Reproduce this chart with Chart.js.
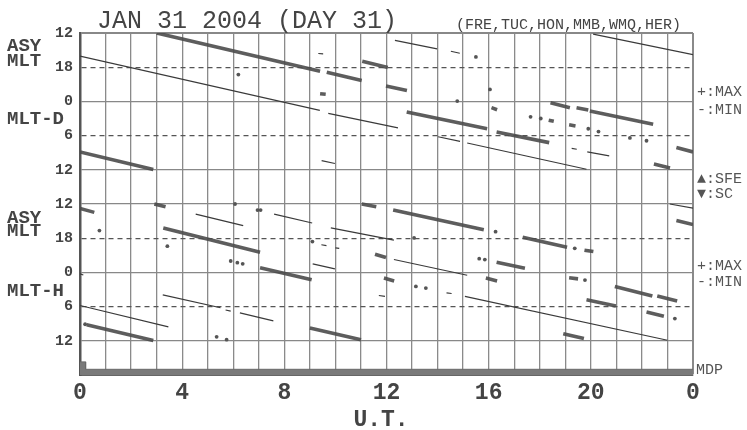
<!DOCTYPE html>
<html><head><meta charset="utf-8">
<script src="https://cdn.jsdelivr.net/npm/chart.js@4.4.1/dist/chart.umd.min.js"></script>
<style>html,body{margin:0;padding:0;background:#fff}#wrap{width:747px;height:430px;position:relative}</style>
</head><body><div id="wrap"><canvas id="c"></canvas></div>
<script>
// ---- text / tick labels ----
const TITLE = 'JAN 31 2004 (DAY 31)';
const STATIONS = '(FRE,TUC,HON,MMB,WMQ,HER)';
const UT_TICKS = [0, 4, 8, 12, 16, 20, 24];
const UT_TICK_LABELS = ['0', '4', '8', '12', '16', '20', '0'];
const MLT_TICK_LABELS = ['12', '18', '0', '6', '12'];

// ---- data: segments [UT1, MLT1, UT2, MLT2]; MLT given on a 12..36 scale (24 = midnight, 36 = next noon) ----
// ASY-D panel
const D_MAX_SEGS = [
  [3.0, 12.0, 9.4, 18.7], [9.66, 18.9, 11.03, 20.35], [11.05, 16.95, 12.05, 18.05],
  [11.98, 21.3, 12.8, 22.1], [9.4, 22.65, 9.62, 22.75], [12.79, 25.86, 15.94, 28.8],
  [16.11, 25.1, 16.33, 25.46], [16.31, 29.36, 18.37, 31.23], [18.42, 24.24, 19.18, 25.1],
  [19.44, 25.1, 19.9, 25.5], [19.96, 25.7, 22.44, 28.0], [18.35, 27.3, 18.55, 27.5],
  [19.15, 28.1, 19.4, 28.3], [23.35, 32.1, 24.0, 32.86], [0.0, 32.86, 2.87, 35.95],
  [22.47, 35.0, 23.1, 35.7]
];
const D_MIN_SEGS = [
  [0.0, 16.07, 9.39, 25.58], [9.72, 26.1, 12.45, 28.65], [9.33, 15.6, 9.52, 15.65],
  [9.46, 34.4, 9.98, 34.9], [12.33, 13.28, 13.98, 14.8], [14.52, 15.2, 14.87, 15.55],
  [14.02, 30.2, 14.88, 31.0], [15.16, 31.3, 19.83, 35.9], [19.25, 32.25, 19.45, 32.4],
  [19.86, 32.86, 20.72, 33.55], [20.09, 12.2, 24.0, 15.8]
];
const D_DOTS = [
  [6.2, 19.3], [15.5, 16.2], [16.05, 21.9], [14.77, 23.95], [17.64, 26.7], [18.04, 27.0],
  [19.9, 28.8], [20.3, 29.3], [21.53, 30.4], [22.18, 30.9]
];
// ASY-H panel
const H_MAX_SEGS = [
  [0.0, 12.77, 0.56, 13.47], [2.91, 12.0, 3.35, 12.5], [3.26, 16.2, 7.05, 20.46],
  [7.05, 23.2, 9.07, 25.3], [11.03, 12.0, 11.6, 12.47], [11.55, 20.8, 11.98, 21.4],
  [11.9, 25.0, 12.3, 25.5], [0.26, 33.17, 2.87, 35.95], [9.0, 33.75, 11.0, 35.8],
  [12.26, 13.07, 15.81, 16.5], [17.33, 17.84, 19.07, 19.6], [19.75, 20.1, 20.1, 20.35],
  [16.31, 22.2, 17.42, 23.26], [15.89, 25.0, 16.33, 25.5], [19.15, 24.95, 19.5, 25.13],
  [20.94, 26.46, 22.41, 28.15], [22.6, 28.15, 23.38, 29.03], [19.83, 28.8, 20.98, 29.9],
  [22.18, 30.95, 22.86, 31.7], [18.92, 34.75, 19.73, 35.6], [23.35, 14.9, 24.0, 15.6]
];
const H_MIN_SEGS = [
  [4.53, 13.77, 6.39, 15.8], [7.6, 13.77, 9.09, 15.34], [9.82, 16.2, 12.29, 18.35],
  [9.45, 19.15, 9.65, 19.3], [10.0, 19.7, 10.15, 19.8], [9.11, 22.5, 9.98, 23.37],
  [11.7, 28.05, 11.94, 28.2], [0.0, 29.8, 3.46, 33.57], [3.24, 27.93, 5.5, 30.2],
  [5.7, 30.6, 5.9, 30.8], [6.26, 31.1, 7.57, 32.5], [0.0, 24.25, 0.13, 24.45],
  [12.29, 21.74, 15.16, 24.5], [14.35, 27.6, 14.55, 27.7], [15.07, 28.2, 23.0, 35.9],
  [23.09, 12.0, 24.0, 12.72]
];
const H_DOTS = [
  [0.76, 16.67], [3.42, 19.4], [5.9, 22.0], [6.16, 22.3], [6.37, 22.5], [6.07, 12.0],
  [6.95, 13.07], [7.07, 13.07], [16.27, 16.86], [13.08, 17.96], [19.37, 19.77],
  [15.63, 21.6], [15.85, 21.75], [19.77, 25.34], [13.15, 26.46], [13.54, 26.75],
  [23.29, 32.1], [5.35, 35.3], [5.74, 35.8], [9.1, 18.6], [0.2, 33.1]
];
// MDP strip at the bottom
const MDP_UT = [0, 0.22, 0.22, 24];
const MDP_LEVEL = [2.3, 2.3, 1.0, 1.0];

// ---- axis layout (value space) ----
const UPPER_OFFSET = 0, LOWER_OFFSET = 30, Y_MAX = 60;
const Y_TICKS = [0, 6, 12, 18, 24, 30, 36, 42, 48, 54, 60];
const DASHED = [6, 18, 36, 48];
const HOURS = Array.from({length: 25}, (_, i) => i);

function toY(mlt, off) { return mlt - 12 + off; }
function segData(segs, off) {
  const pts = [];
  segs.forEach(s => {
    pts.push({x: s[0], y: toY(s[1], off)});
    pts.push({x: s[2], y: toY(s[3], off)});
    pts.push({x: s[2], y: null});
  });
  return pts;
}
function dotData(d, off) { return d.map(p => ({x: p[0], y: toY(p[1], off)})); }
function yLabel(v) {
  if (v <= 24) return MLT_TICK_LABELS[v / 6];
  if (v >= 30 && v <= 54) return MLT_TICK_LABELS[(v - 30) / 6];
  return '';
}

const THICK = {borderColor: 'rgba(75,75,75,0.9)', borderWidth: 3.6, pointRadius: 0, fill: false, spanGaps: false, borderCapStyle: 'butt'};
const THIN = {borderColor: '#3a3a3a', borderWidth: 1.2, pointRadius: 0, fill: false, spanGaps: false};
const DOT = {showLine: false, pointRadius: 1.9, pointBackgroundColor: '#555', pointBorderWidth: 0};

const textPlugin = {
  id: 'texts',
  afterDraw(chart) {
    const ctx = chart.ctx;
    ctx.save();
    ctx.fillStyle = '#444';
    ctx.textBaseline = 'middle';
    ctx.textAlign = 'left';
    ctx.font = '25px "Liberation Mono", monospace';
    ctx.fillText(TITLE, 97, 21);
    ctx.font = '15px "Liberation Mono", monospace';
    ctx.fillText(STATIONS, 456, 25);
    ctx.font = 'bold 19px "Liberation Mono", monospace';
    ctx.fillText('ASY', 7, 46);
    ctx.fillText('MLT', 7, 61);
    ctx.fillText('MLT-D', 7, 119);
    ctx.fillText('ASY', 7, 218);
    ctx.fillText('MLT', 7, 231);
    ctx.fillText('MLT-H', 7, 291);
    ctx.font = '15px "Liberation Mono", "DejaVu Sans Mono", monospace';
    ctx.fillStyle = '#555';
    ctx.fillText('+:MAX', 697, 92);
    ctx.fillText('-:MIN', 697, 110);
    ctx.fillText('\u25B2:SFE', 697, 179);
    ctx.fillText('\u25BC:SC', 697, 194);
    ctx.fillText('+:MAX', 697, 266);
    ctx.fillText('-:MIN', 697, 282);
    ctx.fillText('MDP', 696, 370);
    ctx.fillStyle = '#444';
    ctx.textAlign = 'center';
    ctx.font = 'bold 23px "Liberation Mono", monospace';
    ctx.fillText('U.T.', 381, 420);
    ctx.restore();
  }
};

new Chart(document.getElementById('c'), {
  type: 'line',
  data: {
    datasets: [
      Object.assign({label: 'D MIN', data: segData(D_MIN_SEGS, UPPER_OFFSET)}, THIN),
      Object.assign({label: 'H MIN', data: segData(H_MIN_SEGS, LOWER_OFFSET)}, THIN),
      Object.assign({label: 'D MAX', data: segData(D_MAX_SEGS, UPPER_OFFSET)}, THICK),
      Object.assign({label: 'H MAX', data: segData(H_MAX_SEGS, LOWER_OFFSET)}, THICK),
      Object.assign({label: 'D dots', data: dotData(D_DOTS, UPPER_OFFSET)}, DOT),
      Object.assign({label: 'H dots', data: dotData(H_DOTS, LOWER_OFFSET)}, DOT),
      {label: 'MDP', data: MDP_UT.map((t, i) => ({x: t, y: Y_MAX - MDP_LEVEL[i]})),
       borderColor: '#6a6a6a', borderWidth: 1, backgroundColor: '#7a7a7a', fill: {value: Y_MAX}, pointRadius: 0}
    ]
  },
  options: {
    responsive: true, maintainAspectRatio: false, animation: false,
    layout: {padding: {top: 33, right: 54, left: 0, bottom: 0}},
    plugins: {legend: {display: false}, tooltip: {enabled: false}},
    scales: {
      x: {
        type: 'linear', min: 0, max: 24,
        afterBuildTicks: s => { s.ticks = HOURS.map(v => ({value: v})); },
        afterFit: s => { s.height = 55; },
        ticks: {
          autoSkip: false, maxRotation: 0, padding: 4, color: '#444',
          font: {family: 'Liberation Mono', size: 23, weight: 'bold'},
          callback: v => { const i = UT_TICKS.indexOf(v); return i >= 0 ? UT_TICK_LABELS[i] : ''; }
        },
        grid: {drawTicks: false, color: '#8a8a8a', lineWidth: c => (c.tick && c.tick.value === 24) ? 2 : 1.3},
        border: {display: true, color: '#666', width: 2}
      },
      y: {
        type: 'linear', min: 0, max: Y_MAX, reverse: true,
        afterBuildTicks: s => { s.ticks = Y_TICKS.map(v => ({value: v})); },
        afterFit: s => { s.width = 80; },
        ticks: {
          autoSkip: false, padding: 7, color: '#444',
          font: {family: 'Liberation Mono', size: 15, weight: 'bold'},
          callback: v => yLabel(v)
        },
        grid: {
          drawTicks: false,
          color: c => {
            if (!c.tick) return '#888';
            const v = c.tick.value;
            if (v === Y_MAX) return 'rgba(0,0,0,0)';
            return DASHED.includes(v) ? '#555' : '#888';
          },
          lineWidth: c => (c.tick && c.tick.value === 0) ? 2 : 1.3
        },
        border: {display: true, color: '#555', width: 2.5,
          dash: c => (c.tick && DASHED.includes(c.tick.value)) ? [5, 4] : []}
      }
    }
  },
  plugins: [textPlugin]
});
</script>
</body></html>
